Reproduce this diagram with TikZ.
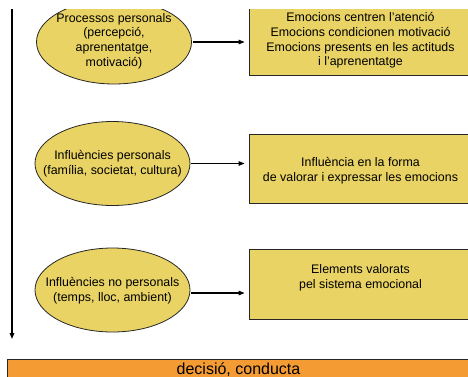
\documentclass[tikz,border=0pt]{standalone}
\usepackage{fontspec}
\setmainfont{Liberation Sans}
\usetikzlibrary{shapes.geometric,arrows.meta}
\definecolor{fillyellow}{RGB}{233,211,100}
\definecolor{fillorange}{RGB}{245,155,52}
\begin{document}
\begin{tikzpicture}[x=1pt,y=-1pt,
  oval/.style={ellipse,draw=black!85,line width=0.8pt,fill=fillyellow,
    minimum width=155pt,minimum height=84pt,inner sep=0pt},
  panel/.style={rectangle,draw=black!85,line width=0.8pt,fill=fillyellow,
    minimum width=223pt,inner sep=0pt},
  label text/.style={align=center,inner sep=0pt,font=\fontsize{12.4}{14.6}\selectfont},
  link/.style={-{Triangle[length=6pt,width=4.5pt]},line width=1.1pt}]
\useasboundingbox (0,0) rectangle (468,376);
\clip (0,9) rectangle (468,376);

% timeline on the left
\coordinate (flowtop) at (12,9);
\coordinate (flowend) at (12,339);
\draw[link,line width=1.4pt] (flowtop) -- (flowend);

% processes (ellipses)
\node[oval] (e1) at (114,42) {};
\node[label text] (e1text) at (114,41) {Processos personals\\(percepció,\\aprenentatge,\\motivació)};
\node[oval] (e2) at (112.5,163.5) {};
\node[label text] (e2text) at (112.5,164) {Influències personals\\(família, societat, cultura)};
\node[oval] (e3) at (112.5,290) {};
\node[label text] (e3text) at (112.5,290.5) {Influències no personals\\(temps, lloc, ambient)};

% effects (boxes)
\node[panel,minimum height=70pt] (p1) at (360.5,40) {};
\node[label text] (t1) at (360.5,40.5) {Emocions centren l’atenció\\Emocions condicionen motivació\\Emocions presents en les actituds\\i l’aprenentatge};
\node[panel,minimum height=69pt] (p2) at (360.5,168.5) {};
\node[label text] (t2) at (360.5,170.5) {Influència en la forma\\de valorar i expressar les emocions};
\node[panel,minimum height=70pt] (p3) at (360.5,284) {};
\node[label text] (t3) at (360.5,277.5) {Elements valorats\\pel sistema emocional};

% connectors
\draw[link,shorten >=4pt,shorten <=1pt] (e1.east) -- (e1.east -| p1.west);
\draw[link,shorten >=4pt,shorten <=1pt] (e2.east) -- (e2.east -| p2.west);
\draw[link,shorten >=4pt,shorten <=1pt] ([yshift=-3pt]e3.east) -- ([yshift=-3pt]e3.east -| p3.west);

% outcome bar
\node[rectangle,draw=black!85,line width=0.8pt,fill=fillorange,minimum width=465pt,
  minimum height=24pt,inner sep=0pt] (bar) at (239.5,371) {};
\node[anchor=base,inner sep=0pt,font=\fontsize{16}{18}\selectfont] (bartext) at (238.5,374) {decisió, conducta};
\end{tikzpicture}
\end{document}
